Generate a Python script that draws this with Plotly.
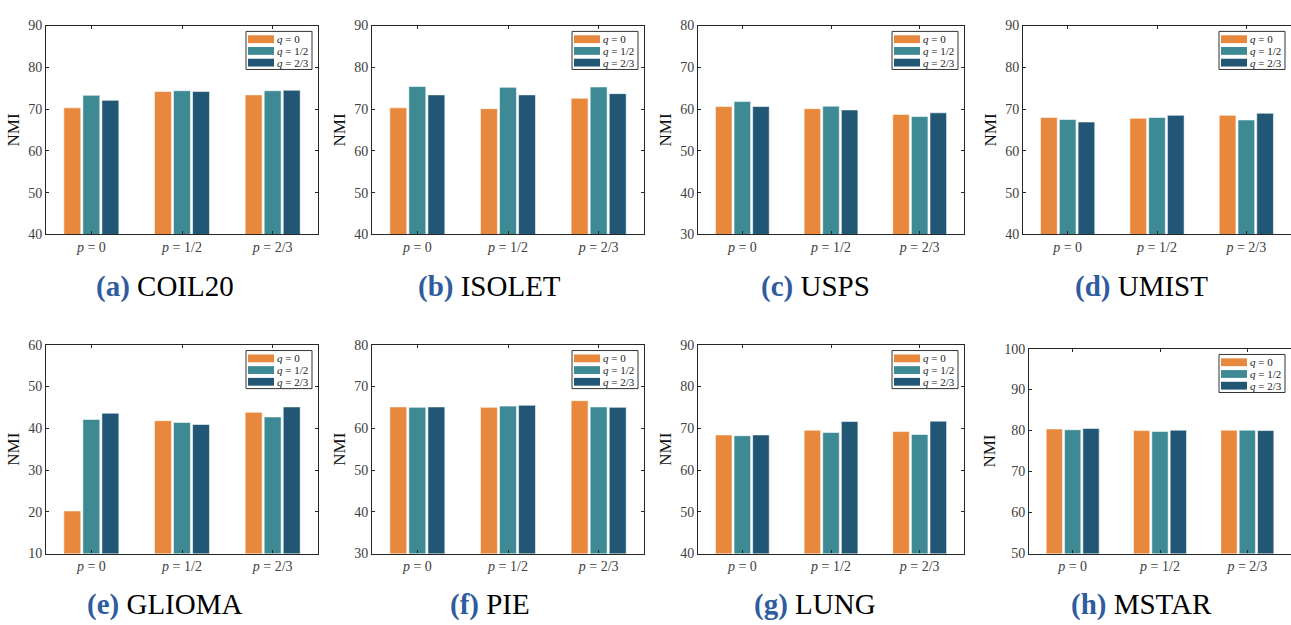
import plotly.graph_objects as go

W, H = 1291, 625

# Grouping categories and series
groups = ["<i>p</i> = 0", "<i>p</i> = 1/2", "<i>p</i> = 2/3"]
series_names = ["q = 0", "q = 1/2", "q = 2/3"]
series_labels = ["<i>q</i> = 0", "<i>q</i> = 1/2", "<i>q</i> = 2/3"]
series_colors = ["#E8883C", "#3E8A94", "#215674"]

# Panel letters and dataset names
letters = ["a", "b", "c", "d", "e", "f", "g", "h"]
datasets = ["COIL20", "ISOLET", "USPS", "UMIST", "GLIOMA", "PIE", "LUNG", "MSTAR"]

# NMI values per dataset: rows are q = 0, 1/2, 2/3; columns are p = 0, 1/2, 2/3
nmi_coil20 = [[70.3, 74.2, 73.4], [73.3, 74.4, 74.4], [72.1, 74.2, 74.5]]
nmi_isolet = [[70.3, 70.1, 72.6], [75.4, 75.2, 75.3], [73.4, 73.4, 73.7]]
nmi_usps = [[60.6, 60.1, 58.7], [61.8, 60.7, 58.2], [60.6, 59.8, 59.1]]
nmi_umist = [[68.0, 67.8, 68.5], [67.5, 68.0, 67.4], [66.9, 68.5, 69.0]]
nmi_glioma = [[20.2, 41.8, 43.8], [42.1, 41.4, 42.7], [43.6, 40.9, 45.1]]
nmi_pie = [[65.1, 65.0, 66.6], [65.0, 65.3, 65.1], [65.1, 65.5, 65.0]]
nmi_lung = [[68.4, 69.5, 69.2], [68.2, 69.0, 68.5], [68.4, 71.6, 71.7]]
nmi_mstar = [[80.4, 80.0, 80.1], [80.2, 79.8, 80.1], [80.5, 80.1, 80.0]]
all_values = [nmi_coil20, nmi_isolet, nmi_usps, nmi_umist,
              nmi_glioma, nmi_pie, nmi_lung, nmi_mstar]

# Y-axis ranges per panel
y_ranges = [(40, 90), (40, 90), (30, 80), (40, 90),
            (10, 60), (30, 80), (40, 90), (50, 100)]

# Plot-area boxes in pixels: (left, right, top, bottom)
boxes = [(46, 318, 19, 233), (372, 644, 19, 233), (698, 964, 19, 233), (1023, 1291, 19, 233),
         (46, 318, 346, 560), (372, 644, 346, 560), (698, 964, 346, 560), (1029, 1291, 350, 560)]
# Caption centres in pixels
caption_x = [165, 489, 815, 1141, 164, 490, 815, 1141]
caption_y = [286, 286, 286, 286, 612, 612, 612, 612]

SERIF = "Liberation Serif"
AXIS_COLOR = "#262626"
TITLE_BLUE = "#2E5C9F"

fig = go.Figure()
x_pos = [1, 2, 3]
shapes, annotations = [], []

for i, vals in enumerate(all_values):
    n = i + 1
    xa = "x" if n == 1 else f"x{n}"
    ya = "y" if n == 1 else f"y{n}"
    for s in range(3):
        fig.add_trace(go.Bar(
            x=x_pos, y=vals[s], name=series_names[s], xaxis=xa, yaxis=ya,
            marker=dict(color=series_colors[s],
                        line=dict(color="rgba(255,255,255,0.7)", width=0.8)),
            showlegend=False, offsetgroup=str(s),
        ))

    L, R, T, B = boxes[i]
    pw, ph = R - L, B - T
    last_col = (i % 4) == 3
    fig.layout[f"xaxis{'' if n == 1 else n}"] = dict(
        domain=[L / W, R / W], anchor=ya, range=[0.5, 3.5],
        tickvals=x_pos, ticktext=groups, ticks="inside", ticklen=3,
        tickcolor=AXIS_COLOR, showline=True, linecolor=AXIS_COLOR, linewidth=1.2,
        mirror="ticks", showgrid=False, zeroline=False,
        tickfont=dict(family=SERIF, size=14, color="#404040"),
    )
    lo, hi = y_ranges[i]
    fig.layout[f"yaxis{'' if n == 1 else n}"] = dict(
        domain=[(H - B) / H, (H - T) / H], anchor=xa, range=[lo, hi],
        dtick=10, tick0=lo, ticks="inside", ticklen=3,
        tickcolor=AXIS_COLOR, showline=True, linecolor=AXIS_COLOR, linewidth=1,
        mirror=False if last_col else "ticks", showgrid=False, zeroline=False,
        tickfont=dict(family=SERIF, size=14, color="#404040"),
        title=dict(text="NMI", font=dict(family=SERIF, size=17, color="#111111"), standoff=4),
    )

    # Legend box in the upper-right corner of each panel
    xd, yd = f"{xa} domain", f"{ya} domain"
    fx = lambda px: (px - L) / pw
    fy = lambda py: (B - py) / ph
    shapes.append(dict(type="rect", xref=xd, yref=yd,
                       x0=fx(R - 72), x1=fx(R - 6), y0=fy(T + 45), y1=fy(T + 6),
                       line=dict(color="#333333", width=1), fillcolor="white", layer="above"))
    for s in range(3):
        top = T + 10 + 12 * s
        shapes.append(dict(type="rect", xref=xd, yref=yd,
                           x0=fx(R - 70), x1=fx(R - 44), y0=fy(top + 8), y1=fy(top),
                           line=dict(width=0), fillcolor=series_colors[s], layer="above"))
        annotations.append(dict(xref=xd, yref=yd, x=fx(R - 43), y=fy(top + 4),
                                text=series_labels[s], showarrow=False,
                                xanchor="left", yanchor="middle",
                                font=dict(family=SERIF, size=11, color="#222222")))

    # Sub-figure caption
    annotations.append(dict(
        xref="paper", yref="paper", x=caption_x[i] / W, y=(H - caption_y[i]) / H,
        text=f"<span style='color:{TITLE_BLUE}'><b>({letters[i]})</b></span> {datasets[i]}",
        showarrow=False, xanchor="center", yanchor="middle",
        font=dict(family=SERIF, size=29, color="#000000"),
    ))

fig.update_layout(
    width=W, height=H, margin=dict(l=0, r=0, t=0, b=0),
    paper_bgcolor="white", plot_bgcolor="white",
    barmode="group", bargap=0.37, bargroupgap=0.11,
    shapes=shapes, annotations=annotations,
)

fig.write_html("out.html")
